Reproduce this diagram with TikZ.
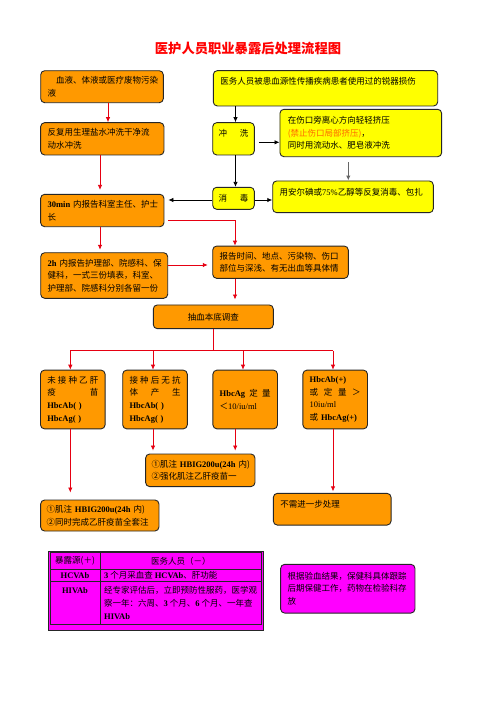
\documentclass[tikz,border=0pt]{standalone}
\usepackage{fontspec}
\setmainfont{Noto Sans CJK SC}
\newfontfamily\lat{Liberation Serif}
\usetikzlibrary{arrows.meta,calc}
\definecolor{bor}{RGB}{255,153,0}
\definecolor{byl}{RGB}{255,255,0}
\definecolor{bmg}{RGB}{255,0,255}
\definecolor{arr}{RGB}{230,0,18}
\definecolor{warn}{RGB}{255,102,0}
\newcommand{\LB}[1]{{\lat\bfseries #1}}
\newcommand{\LR}[1]{{\lat #1}}
\newcommand{\sprd}[2]{\makebox[#1][s]{#2}}
\tikzset{
  box/.style={draw=black!85, line width=0.9pt, rounded corners=4pt, inner xsep=7pt, inner ysep=0pt,
    align=left, font=\fontsize{8.5}{12.7}\selectfont, text=black},
  obox/.style={box, fill=bor},
  ybox/.style={box, fill=byl},
  mbox/.style={box, fill=bmg},
  tt/.style={inner sep=0pt, font=\fontsize{8.5}{12.8}\selectfont, text=black},
  ra/.style={draw=arr, line width=0.8pt, -{Latex[length=5pt,width=4.5pt]}},
  rl/.style={draw=arr, line width=0.8pt},
  ba/.style={draw=black, line width=0.8pt, -{Latex[length=5pt,width=4.5pt]}},
  ga/.style={draw=black!60, line width=1pt, -{Latex[length=5pt,width=4.5pt]}}
}
\begin{document}
\begin{tikzpicture}[x=1pt,y=-1pt]
\fill[white] (0,0) rectangle (496,702);
\useasboundingbox (0,0) rectangle (496,702);

\node[font=\fontsize{13.3}{16}\selectfont\bfseries, text=red] (title) at (248,48.3) {医护人员职业暴露后处理流程图};

% top row
\node[obox, minimum width=122.6pt, minimum height=32pt, text width=108.6pt] (A) at (102,86.7)
  {\hspace*{8.4pt}血液、体液或医疗废物污染\\液};
\node[ybox, minimum width=224.4pt, minimum height=35.3pt, text width=210.4pt] (B) at (325.5,88.3)
  {\raisebox{14pt}{医务人员被患血源性传播疾病患者使用过的锐器损伤}};

\node[obox, minimum width=123.3pt, minimum height=32.3pt, text width=109.3pt] (C) at (102.3,138.8)
  {反复用生理盐水冲洗干净流\\动水冲洗};
\node[ybox, minimum width=41.6pt, minimum height=32.3pt, text width=30pt, inner xsep=5.8pt] (CX) at (233.5,138.8)
  {\raisebox{11pt}{\sprd{30pt}{冲\hfill 洗}}};
\node[ybox, minimum width=161.7pt, minimum height=47.4pt, text width=146.1pt, inner xsep=7.8pt] (D) at (360.8,133)
  {在伤口旁离心方向轻轻挤压\\{\color{warn}(禁止伤口局部挤压)}，\\同时用流动水、肥皂液冲洗};

\node[ybox, minimum width=41.6pt, minimum height=22pt, text width=30pt, inner xsep=5.8pt] (XD) at (233.5,198.3)
  {\sprd{30pt}{消\hfill 毒}};
\node[ybox, minimum width=160.6pt, minimum height=31.7pt, text width=146.6pt] (E) at (353,196.8)
  {\raisebox{10pt}{用安尔碘或\LR{75\%}乙醇等反复消毒、包扎}};

\node[obox, minimum width=123.3pt, minimum height=32.4pt, text width=109.3pt] (F) at (102.3,210.5)
  {\LB{30min}~内报告科室主任、护士\\长};
\node[obox, minimum width=127pt, minimum height=45.6pt, text width=113pt] (G) at (104.2,275.5)
  {\LB{2h}~内报告护理部、院感科、保\\健科，一式三份填表，科室、\\护理部、院感科分别各留一份};
\node[obox, minimum width=135.6pt, minimum height=32.3pt, text width=121.6pt] (H) at (280.5,262.2)
  {报告时间、地点、污染物、伤口\\部位与深浅、有无出血等具体情};
\node[obox, minimum width=120pt, minimum height=23.7pt, text width=106pt, align=center] (I) at (213.3,316.8)
  {抽血本底调查};

% four result boxes
\node[obox, minimum width=64.6pt, minimum height=58.7pt, text width=51pt, inner xsep=6.8pt] (J1) at (72.8,399.5)
  {\sprd{51pt}{未\hfill 接\hfill 种\hfill 乙\hfill 肝}\\\sprd{51pt}{疫\hfill 苗}\\\LB{HbcAb(~)}\\\LB{HbcAg(~)}};
\node[obox, minimum width=64.6pt, minimum height=58.7pt, text width=51pt, inner xsep=6.8pt] (J2) at (155,399.5)
  {\sprd{51pt}{接\hfill 种\hfill 后\hfill 无\hfill 抗}\\\sprd{51pt}{体\hfill 产\hfill 生}\\\LB{HbcAb(~)}\\\LB{HbcAg(~)}};
\node[obox, minimum width=64.6pt, minimum height=58.7pt, text width=51pt, inner xsep=6.8pt] (J3) at (245.2,399.5)
  {\sprd{51pt}{\LB{HbcAg}\hfill 定\hfill 量}\\＜\LR{10/iu/ml}};
\node[obox, minimum width=64.6pt, minimum height=58.7pt, text width=51pt, inner xsep=6.8pt] (J4) at (335.2,399.5)
  {\LB{HbcAb(+)}\\\sprd{51pt}{或\hfill 定\hfill 量\hfill ＞}\\\LR{10iu/ml}\\或~\LB{HbcAg(+)}};

\node[obox, minimum width=109.3pt, minimum height=32.6pt, text width=97.3pt, inner xsep=6pt] (K2) at (200.3,470.3)
  {①肌注~\LB{HBIG200u(24h}~内)\\②强化肌注乙肝疫苗一};
\node[obox, minimum width=118.3pt, minimum height=31pt, text width=106.3pt, inner xsep=6pt] (K1) at (99.8,515.5)
  {①肌注~\LB{HBIG200u(24h}~内)\\②同时完成乙肝疫苗全套注};
\node[obox, minimum width=117.7pt, minimum height=31.7pt, text width=103.7pt] (K3) at (332.2,509.2)
  {\raisebox{10pt}{不需进一步处理}};

% magenta follow-up box
\node[mbox, minimum width=134.3pt, minimum height=48.7pt, text width=120.3pt] (L) at (347.8,588.7)
  {根据验血结果，保健科具体跟踪\\后期保健工作，药物在检验科存\\放};

% table
\draw[fill=bmg, draw=black!85, line width=0.9pt] (48.3,551.7) rectangle (263.3,630);
\draw[draw=black!85, line width=0.7pt] (50,552.5) rectangle (261.7,624);
\draw[draw=black!85, line width=0.7pt] (100,552.5) -- (100,624);
\draw[draw=black!85, line width=0.7pt] (50,569.3) -- (261.7,569.3);
\draw[draw=black!85, line width=0.7pt] (50,581.7) -- (261.7,581.7);
\node[tt] (t11) at (75,561) {暴露源(＋)};
\node[tt] (t12) at (180.8,561) {医务人员（－）};
\node[tt] (t21) at (75,575.5) {\LB{HCVAb}};
\node[tt, anchor=west] (t22) at (104,575.5) {\LB{3} 个月采血查 \LB{HCVAb}、肝功能};
\node[tt] (t31) at (75,590.5) {\LB{HIVAb}};
\node[tt, anchor=north west, align=left] (t32) at (104,586.5)
  {经专家评估后，立即预防性服药，医学观\\察一年：六周、\LB{3} 个月、\LB{6} 个月、一年查\\\LB{HIVAb}};

% connectors, left column (red)
\draw[ra] ([xshift=6pt]A.south) -- ([xshift=6pt]A.south |- C.north);
\draw[ra, shorten >=4pt] ([xshift=-2.3pt]C.south) -- ([xshift=-2.3pt]C.south |- F.north);
\draw[ra, shorten >=2.5pt] ([xshift=-2.3pt]F.south) -- ([xshift=-2.3pt]F.south |- G.north);
\draw[ra] ([xshift=4pt,yshift=-10pt]F.east) -| ([xshift=-45.5pt]H.north);
\draw[ra, shorten >=4.5pt] ([yshift=10.5pt]G.east) -- ([yshift=10.5pt]G.east -| H.west);
\draw[ra, shorten >=5pt] ([xshift=-45.5pt]H.south) -- ([xshift=-45.5pt]H.south |- I.north);

% connectors, right column (black)
\draw[ba] ([xshift=2pt]CX.north |- B.south) -- ([xshift=2pt]CX.north);
\draw[ba] ([xshift=2pt]CX.south) -- ([xshift=2pt]XD.north);
\draw[ba] ([xshift=4pt,yshift=-3.5pt]CX.east) -- ([yshift=-3.5pt]CX.east -| D.west);
\draw[ga] ([xshift=-12.5pt,yshift=-5pt]D.south) -- ([xshift=-12.5pt]D.south |- E.north);
\draw[ba, shorten >=4pt] ([yshift=-1.7pt]XD.west) -- ([yshift=-1.7pt]XD.west -| F.east);
\draw[ba] ([yshift=-1.7pt]XD.east) -- ([yshift=-1.7pt]XD.east -| E.west);

% branching to the four results
\coordinate (hl) at (70.3,350.7);
\coordinate (hr) at (333,350.7);
\draw[rl] (I.south) -- (I.south |- hl);
\draw[rl] (hl) -- (hr);
\draw[ra] (hl) -- ([xshift=-2.5pt]J1.north);
\draw[ra] ([xshift=-2pt]J2.north |- hl) -- ([xshift=-2pt]J2.north);
\draw[ra] ([xshift=-2.2pt]J3.north |- hl) -- ([xshift=-2.2pt]J3.north);
\draw[ra] (hr) -- ([xshift=-2.2pt]J4.north);

\draw[ra, shorten >=7pt] ([xshift=-2.5pt]J1.south) -- ([xshift=-2.5pt]J1.south |- K1.north);
\draw[ra, shorten >=3pt] ([xshift=-2pt]J2.south) -- ([xshift=-2pt]J2.south |- K2.north);
\draw[ra, shorten >=3pt] ([xshift=-10pt]J3.south) -- ([xshift=-10pt]J3.south |- K2.north);
\draw[ra, shorten >=1.5pt] ([xshift=-2.2pt]J4.south) -- ([xshift=-2.2pt]J4.south |- K3.north);
\end{tikzpicture}
\end{document}
